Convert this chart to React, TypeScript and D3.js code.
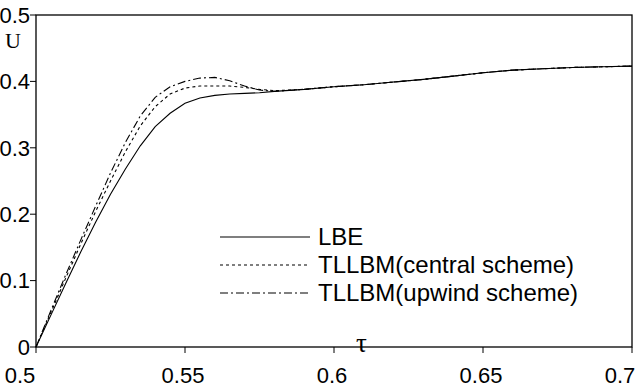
import React from 'react';
import * as d3 from 'd3';

// tau values shared by all three series
const tau = [0.5, 0.505, 0.51, 0.515, 0.52, 0.525, 0.53, 0.535, 0.54, 0.545, 0.55, 0.555, 0.56, 0.565, 0.57, 0.575, 0.58, 0.59, 0.6, 0.61, 0.62, 0.63, 0.64, 0.65, 0.66, 0.67, 0.68, 0.69, 0.7];

const lbe = [0, 0.048, 0.096, 0.143, 0.188, 0.23, 0.268, 0.303, 0.332, 0.352, 0.367, 0.375, 0.379, 0.381, 0.382, 0.383, 0.385, 0.388, 0.392, 0.395, 0.399, 0.403, 0.408, 0.413, 0.417, 0.419, 0.421, 0.422, 0.423];
const central = [0, 0.052, 0.104, 0.155, 0.204, 0.25, 0.294, 0.333, 0.362, 0.381, 0.39, 0.393, 0.393, 0.393, 0.391, 0.388, 0.386, 0.388, 0.392, 0.395, 0.399, 0.403, 0.408, 0.413, 0.417, 0.419, 0.421, 0.422, 0.423];
const upwind = [0, 0.055, 0.109, 0.161, 0.212, 0.262, 0.308, 0.348, 0.376, 0.392, 0.4, 0.405, 0.406, 0.401, 0.393, 0.387, 0.385, 0.388, 0.392, 0.395, 0.399, 0.403, 0.408, 0.413, 0.417, 0.419, 0.421, 0.422, 0.423];

const seriesNames = ['LBE', 'TLLBM(central scheme)', 'TLLBM(upwind scheme)'];
const xTicks = [0.5, 0.55, 0.6, 0.65, 0.7];
const yTicks = [0, 0.1, 0.2, 0.3, 0.4, 0.5];

const W = 640;
const H = 388;
const margin = { top: 15, right: 8, bottom: 41, left: 36 };

export default function App() {
  const x = d3.scaleLinear().domain([0.5, 0.7]).range([margin.left, W - margin.right]);
  const y = d3.scaleLinear().domain([0, 0.5]).range([H - margin.bottom, margin.top]);

  const dashes = ['', '3,3', '8,3,2,3'];
  const series = [lbe, central, upwind];

  const line = d3.line<number>()
    .x((_, i) => x(tau[i]))
    .y(d => y(d));

  const font = 'Arial, "Liberation Sans", sans-serif';
  const serif = '"Liberation Serif", "Times New Roman", serif';
  const legX = 220;
  const legY = [237, 265, 293];
  // label nudges so the end labels stay inside the picture
  const labelShift = (i: number) => (i === 0 ? -16 : i === xTicks.length - 1 ? -12 : -2);

  return (
    <svg width={W} height={H} style={{ position: 'absolute', left: 0, top: 0, background: '#fff' }}>
      <rect x={0} y={0} width={W} height={H} fill="#fff" />
      {/* frame */}
      <rect x={x(0.5)} y={y(0.5)} width={x(0.7) - x(0.5)} height={y(0) - y(0.5)} fill="none" stroke="#000" strokeWidth={1.3} />

      {/* y ticks */}
      {yTicks.map(t => (
        <g key={'y' + t}>
          <line x1={x(0.5) - 6} x2={x(0.5)} y1={y(t)} y2={y(t)} stroke="#000" strokeWidth={1} />
          <text x={x(0.5) - 6} y={y(t)} dy="0.35em" textAnchor="end" fontFamily={font} fontSize={22}>{t}</text>
        </g>
      ))}

      {/* x ticks */}
      {xTicks.map((t, i) => (
        <g key={'x' + t}>
          <line x1={x(t)} x2={x(t)} y1={y(0)} y2={y(0) + 6} stroke="#000" strokeWidth={1} />
          <text x={x(t) + labelShift(i)} y={y(0) + 36} textAnchor="middle" fontFamily={font} fontSize={22}>{t}</text>
        </g>
      ))}

      <text x={5} y={48} fontFamily={serif} fontSize={22}>U</text>
      <text x={356} y={352} fontFamily={serif} fontSize={27}>τ</text>

      {series.map((s, i) => (
        <path key={i} d={line(s) || ''} fill="none" stroke="#000" strokeWidth={1.1} strokeDasharray={dashes[i]} />
      ))}

      {/* legend */}
      {seriesNames.map((n, i) => (
        <g key={n}>
          <line x1={legX} x2={legX + 90} y1={legY[i]} y2={legY[i]} stroke="#000" strokeWidth={1.2} strokeDasharray={dashes[i]} />
          <text x={legX + 98} y={legY[i]} dy="0.35em" fontFamily={font} fontSize={24}>{n}</text>
        </g>
      ))}
    </svg>
  );
}
